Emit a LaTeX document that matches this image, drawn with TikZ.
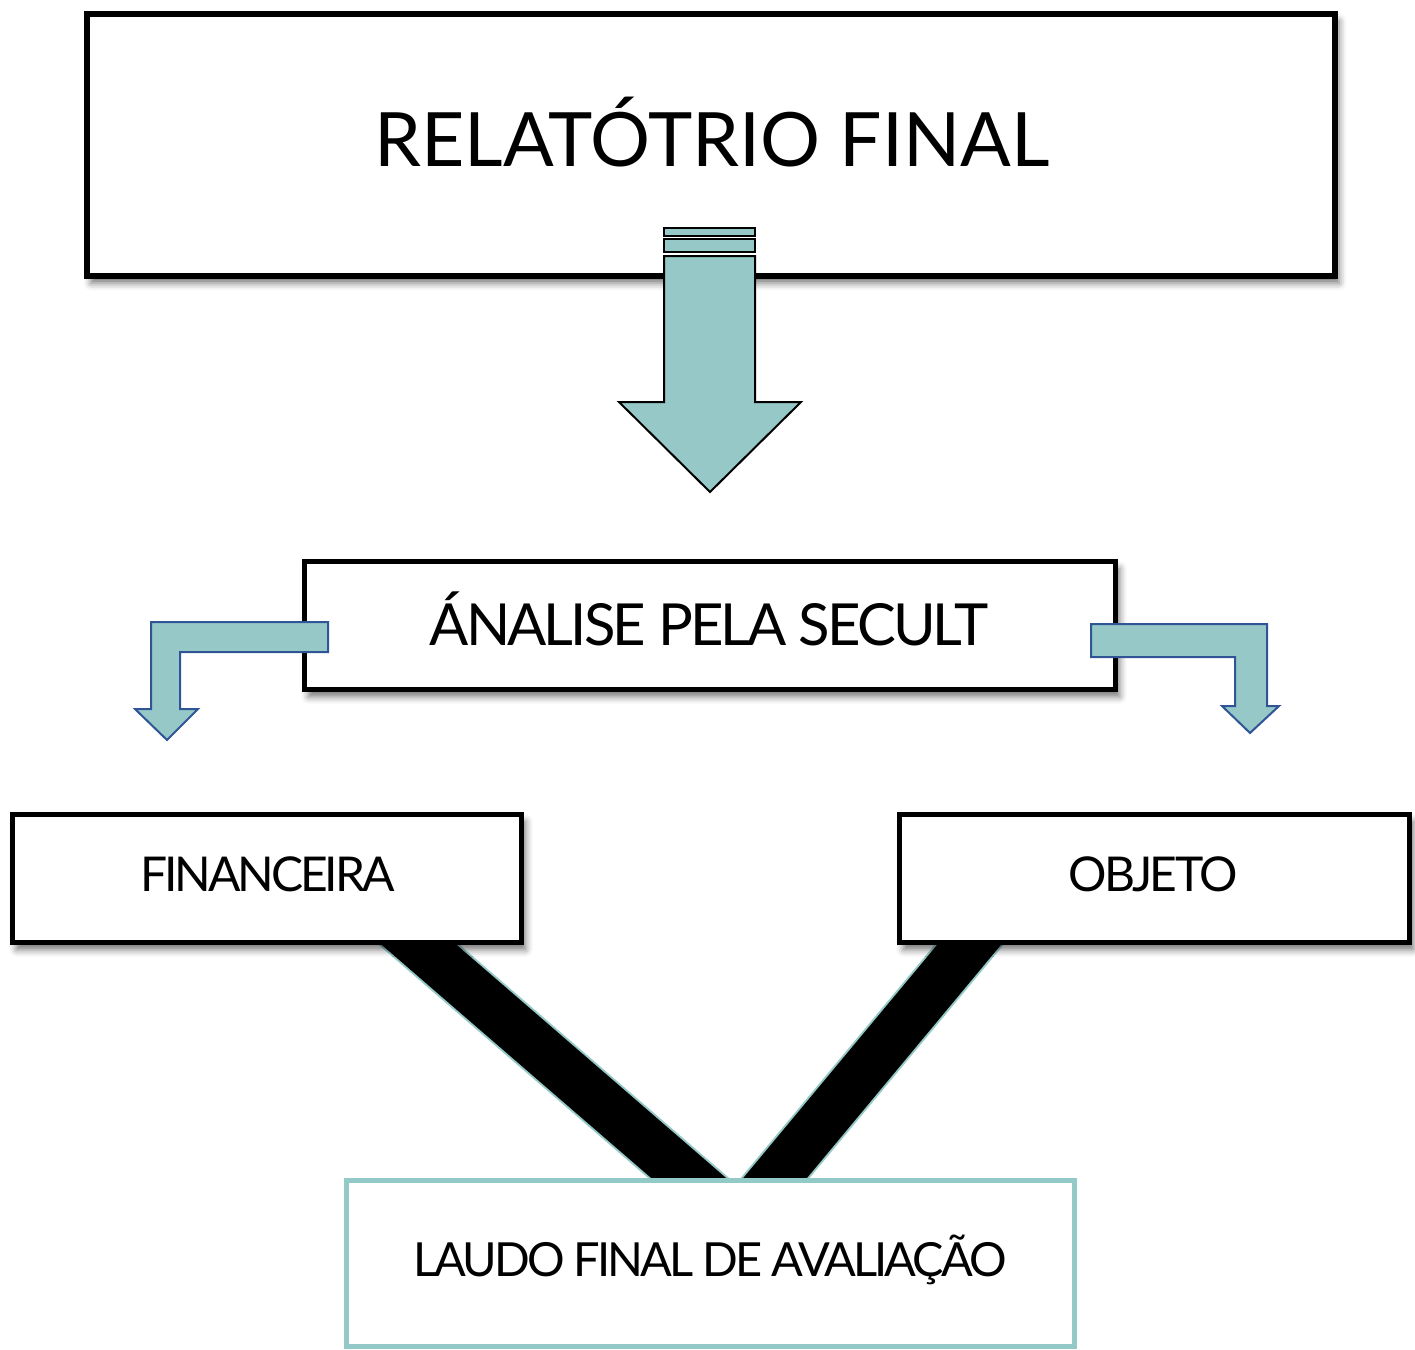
\documentclass[tikz,border=0pt]{standalone}
\usepackage{fontspec}
\setmainfont{Lato}
\usetikzlibrary{shadows.blur,backgrounds}
\definecolor{tealfill}{RGB}{150,200,200}
\definecolor{tealline}{RGB}{147,201,198}
\definecolor{arrowblue}{RGB}{47,85,151}
\begin{document}
\begin{tikzpicture}[x=1pt,y=-1pt,
  boxstyle/.style={draw=black, line width=6pt, fill=white, inner sep=0pt,
    blur shadow={shadow xshift=4pt, shadow yshift=-7pt, shadow blur radius=7pt, shadow opacity=55}},
  smallbox/.style={boxstyle, line width=5pt},
  finalbox/.style={draw=tealline, line width=5pt, fill=white, inner sep=0pt},
  lbl/.style={anchor=base, inner sep=0pt},
  bigarrow/.style={fill=tealfill, draw=black, line width=2pt, line join=miter},
  bentarrow/.style={fill=tealfill, draw=arrowblue, line width=2pt, line join=miter},
  band/.style={line width=53pt, draw=tealline},
  bandcore/.style={line width=49pt, draw=black}
]
\useasboundingbox (0,0) rectangle (1415,1349);

% boxes
\node[boxstyle, minimum width=1248pt, minimum height=262pt] (top) at (711,145) {};
\node[smallbox, minimum width=811pt, minimum height=128pt] (ana) at (710,625.5) {};
\node[smallbox, minimum width=509pt, minimum height=128pt] (fin) at (267,878.5) {};
\node[smallbox, minimum width=510pt, minimum height=128pt] (obj) at (1154.5,878.5) {};
\node[finalbox, minimum width=728pt, minimum height=166pt] (laudo) at (710.5,1263.5) {};

% labels
\node[lbl, font=\fontsize{75}{80}\selectfont] (ttop) at (712,166) {RELATÓTRIO FINAL};
\node[lbl, font=\fontsize{58}{64}\selectfont\addfontfeature{LetterSpace=-5}] (tana) at (709,645) {ÁNALISE PELA SECULT};
\node[lbl, font=\fontsize{48}{54}\selectfont\addfontfeature{LetterSpace=-6.5}] (tfin) at (267.5,891) {FINANCEIRA};
\node[lbl, font=\fontsize{48}{54}\selectfont\addfontfeature{LetterSpace=-5.5}] (tobj) at (1153,891) {OBJETO};
\node[lbl, font=\fontsize{47}{55}\selectfont\addfontfeature{LetterSpace=-6.3}] (tlaudo) at (710,1276) {LAUDO FINAL DE AVALIAÇÃO};

% thick bands behind boxes
\coordinate (fa) at (365,898);
\coordinate (fb) at (743,1225);
\coordinate (oa) at (1008,898);
\coordinate (ob) at (736,1225);
\begin{scope}[on background layer]
  \draw[band] (fa) -- (fb);
  \draw[bandcore] (fa) -- (fb);
  \draw[band] (oa) -- (ob);
  \draw[bandcore] (oa) -- (ob);
\end{scope}

% big down arrow
\draw[bigarrow] (664,228) rectangle (755,236);
\draw[bigarrow] (664,239) rectangle (755,252);
\draw[bigarrow] (664,256) -- (755,256) -- (755,402) -- (801,402) -- (710,492)
  -- (619,402) -- (664,402) -- cycle;

% bent arrows
\draw[bentarrow] (328,622) -- (151,622) -- (151,709) -- (135,709) -- (167,740)
  -- (198,709) -- (180,709) -- (180,652) -- (328,652) -- cycle;
\draw[bentarrow] (1091,624) -- (1267,624) -- (1267,706) -- (1279,706) -- (1250,733)
  -- (1222,706) -- (1235,706) -- (1235,657) -- (1091,657) -- cycle;
\end{tikzpicture}
\end{document}
